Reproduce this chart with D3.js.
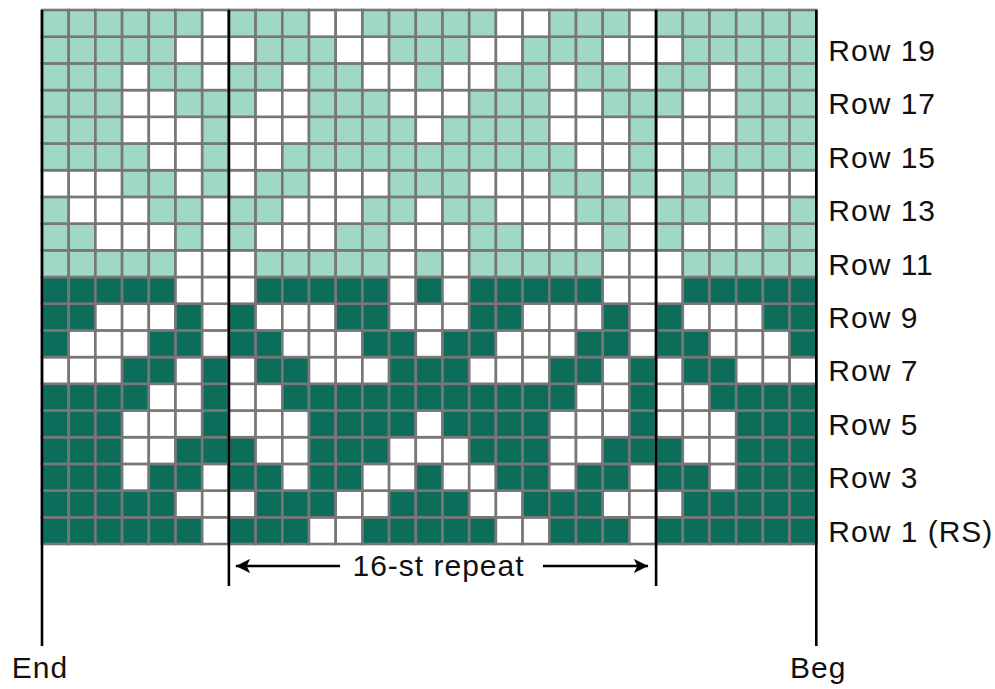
<!DOCTYPE html>
<html>
<head>
<meta charset="utf-8">
<script src="https://d3js.org/d3.v7.min.js"></script>
<style>
  body { margin: 0; background: #fff; }
  text { font-family: "Liberation Sans", Arial, sans-serif; fill: #111; letter-spacing: 1px; }
</style>
</head>
<body>
<svg width="995" height="689"></svg>
<script>

// chart rows, "1" = contrast colour, "0" = white; 29 stitches each
// End (7 sts) | 16-st repeat | Beg (6 sts)
var darkRows = [            // rows 1..10
  "1111110" + "1110011111001110" + "111111",
  "1111100" + "0111001110011100" + "011111",
  "1110110" + "1101100100110110" + "110111",
  "1110011" + "1001110001110011" + "100111",
  "1110001" + "0001111011110001" + "000111",
  "1111001" + "0011111111111001" + "001111",
  "0001101" + "0110001110001101" + "011000",
  "1000110" + "1100011011000110" + "110001",
  "1100010" + "1000110001100010" + "100011",
  "1111100" + "0111110101111100" + "011111"
];
var lightRows = [           // rows 11..20
  "1111100" + "0111110101111100" + "011111",
  "1100010" + "1000110001100010" + "100011",
  "1000110" + "1100011011000110" + "110001",
  "0001101" + "0110001110001101" + "011000",
  "1111001" + "0011111111111001" + "001111",
  "1110001" + "0001111011110001" + "000111",
  "1110011" + "1001110001110011" + "100111",
  "1110110" + "1101100100110110" + "110111",
  "1111100" + "0111001110011100" + "011111",
  "1111110" + "1110011111001110" + "111111"
];
var labeledRows = [19, 17, 15, 13, 11, 9, 7, 5, 3, 1];
var rowText = function(r) { return r === 1 ? "Row 1 (RS)" : "Row " + r; };
var sectionLines = [0, 7, 23, 29];   // column boundaries
var repeatText = "16-st repeat";
var endText = "End", begText = "Beg";

var svg = d3.select("svg");
var nCols = 29, nRows = 20;
var cell = 26.7;
var gridLeft = 42, gridTop = 10;

var x = d3.scaleLinear().domain([0, nCols]).range([gridLeft, gridLeft + nCols * cell]);
var y = d3.scaleLinear().domain([nRows, 0]).range([gridTop, gridTop + nRows * cell]);

var colors = { dark: "#0c6e5a", light: "#9fd8c6" };

var cells = [];
darkRows.forEach(function(s, i) {
  s.split("").forEach(function(c, j) {
    cells.push({ row: i + 1, col: j, on: c === "1", color: colors.dark });
  });
});
lightRows.forEach(function(s, i) {
  s.split("").forEach(function(c, j) {
    cells.push({ row: i + 11, col: j, on: c === "1", color: colors.light });
  });
});

// y(row) is the top edge of the row above, so use row as the upper bound
svg.append("g").selectAll("rect")
  .data(cells)
  .enter().append("rect")
  .attr("x", function(d) { return x(d.col); })
  .attr("y", function(d) { return y(d.row); })
  .attr("width", cell)
  .attr("height", cell)
  .attr("fill", function(d) { return d.on ? d.color : "#fff"; })
  .attr("stroke", "#777")
  .attr("stroke-width", 2.6);

// section lines
svg.append("g").selectAll("line")
  .data(sectionLines)
  .enter().append("line")
  .attr("x1", function(d) { return x(d); })
  .attr("x2", function(d) { return x(d); })
  .attr("y1", gridTop)
  .attr("y2", function(d) { return (d === 0 || d === nCols) ? 646 : 586; })
  .attr("stroke", "#000")
  .attr("stroke-width", 2.6);

// row labels
svg.append("g").selectAll("text")
  .data(labeledRows)
  .enter().append("text")
  .attr("x", x(nCols) + 12)
  .attr("y", function(d) { return y(d) + cell / 2 + 11; })
  .attr("font-size", 30)
  .text(rowText);

// repeat arrow
var ay = 566;
svg.append("defs").append("marker")
  .attr("id", "ah")
  .attr("viewBox", "0 0 10 10")
  .attr("refX", 10).attr("refY", 5)
  .attr("markerWidth", 7).attr("markerHeight", 5.5)
  .attr("markerUnits", "strokeWidth")
  .attr("orient", "auto")
  .append("path").attr("d", "M0,0L10,5L0,10L2.5,5Z").attr("fill", "#000");

svg.append("line")
  .attr("x1", 340).attr("x2", x(7) + 7).attr("y1", ay).attr("y2", ay)
  .attr("stroke", "#000").attr("stroke-width", 2.6).attr("marker-end", "url(#ah)");
svg.append("line")
  .attr("x1", 543).attr("x2", x(23) - 8).attr("y1", ay).attr("y2", ay)
  .attr("stroke", "#000").attr("stroke-width", 2.6).attr("marker-end", "url(#ah)");

svg.append("text")
  .attr("x", (x(7) + x(23)) / 2 - 4)
  .attr("y", 576)
  .attr("text-anchor", "middle")
  .attr("font-size", 30)
  .text(repeatText);

svg.append("text")
  .attr("x", x(0) - 2).attr("y", 678)
  .attr("text-anchor", "middle").attr("font-size", 30)
  .text(endText);
svg.append("text")
  .attr("x", x(nCols) + 2).attr("y", 678)
  .attr("text-anchor", "middle").attr("font-size", 30)
  .text(begText);

</script>
</body>
</html>
